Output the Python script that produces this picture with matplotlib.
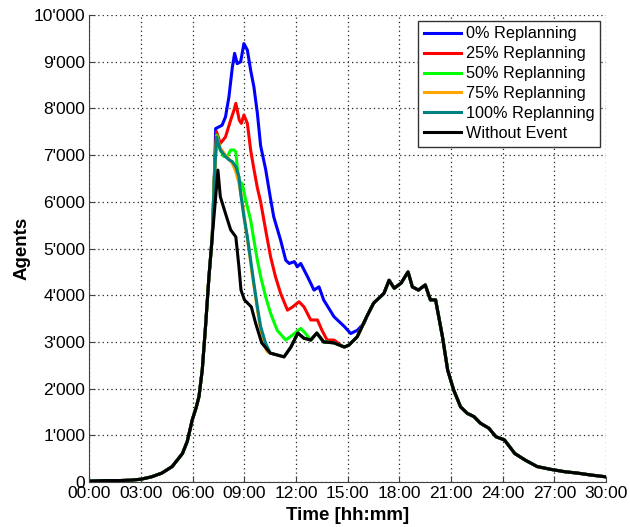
import matplotlib
matplotlib.use("Agg")
import matplotlib.pyplot as plt
import numpy as np
from matplotlib.ticker import FuncFormatter, MultipleLocator

plt.rcParams['font.family'] = ['Liberation Sans', 'DejaVu Sans']

# Without event (time in hours, agents)
base_t = [0, 0.9, 1.7, 2.45, 3.0, 3.6, 4.2, 4.8, 5.4, 5.68, 5.97, 6.2, 6.36, 6.55,
          6.74, 6.94, 7.13, 7.33, 7.46, 7.6, 7.9, 8.2, 8.5, 8.68, 8.8, 9.0, 9.4,
          9.65, 10.0, 10.5, 11.3, 11.7, 12.1, 12.45, 12.85, 13.2, 13.6, 14.2, 14.8,
          15.06, 15.55, 16.1, 16.5, 17.1, 17.4, 17.7, 18.1, 18.5, 18.75, 19.1, 19.5,
          19.8, 20.1, 20.5, 20.8, 21.15, 21.55, 21.94, 22.33, 22.7, 23.2, 23.6, 24.1,
          24.7, 25.3, 26.0, 26.8, 27.6, 28.35, 29.1, 30.0]
base_v = [20, 30, 30, 40, 60, 110, 190, 330, 610, 870, 1330, 1600, 1830, 2400,
          3330, 4400, 5250, 6110, 6680, 6110, 5750, 5400, 5250, 4610, 4110, 3900, 3750,
          3400, 2980, 2760, 2680, 2890, 3190, 3080, 3040, 3190, 3000, 2980, 2890,
          2930, 3110, 3540, 3830, 4040, 4320, 4150, 4260, 4500, 4180, 4110, 4220,
          3900, 3900, 3110, 2400, 1970, 1610, 1470, 1400, 1260, 1150, 970, 900,
          610, 470, 330, 270, 220, 190, 150, 110]

# replanning runs, only the part that differs from the base run
r0_t = [7.25, 7.33, 7.7, 7.9, 8.1, 8.3, 8.43, 8.58, 8.78, 8.97, 9.17, 9.36, 9.55,
        9.75, 9.94, 10.23, 10.5, 10.7, 11.1, 11.4, 11.6, 11.9, 12.07, 12.27, 12.66,
        13.04, 13.33, 13.6, 14.2, 14.8, 15.17, 15.56, 15.95]
r0_v = [6500, 7570, 7640, 7820, 8250, 8890, 9180, 8960, 9000, 9390, 9250, 8820, 8460,
        7900, 7200, 6700, 6100, 5680, 5180, 4750, 4680, 4720, 4610, 4680, 4400,
        4110, 4180, 3900, 3540, 3330, 3180, 3250, 3400]

r25_t = [7.25, 7.38, 7.6, 7.9, 8.2, 8.4, 8.5, 8.7, 8.82, 8.97, 9.17, 9.36, 9.55,
         9.75, 9.94, 10.23, 10.52, 10.8, 11.1, 11.5, 11.8, 12.17, 12.46, 12.85, 13.24,
         13.5, 13.8, 14.2, 14.6]
r25_v = [6500, 7500, 7250, 7390, 7750, 7970, 8110, 7750, 7680, 7860, 7680, 7110, 6700,
         6300, 6000, 5400, 4820, 4400, 4040, 3680, 3750, 3860, 3750, 3470, 3470,
         3250, 3040, 3040, 2930]

r50_t = [7.25, 7.4, 7.6, 7.8, 8.0, 8.2, 8.4, 8.5, 8.58, 8.7, 8.88, 9.07, 9.36,
         9.55, 9.75, 9.94, 10.23, 10.52, 10.9, 11.4, 11.8, 12.27, 12.55]
r50_v = [6500, 7430, 7110, 6970, 6970, 7110, 7110, 7070, 6750, 6450, 6380, 6040, 5610,
         5180, 4750, 4400, 3970, 3610, 3250, 3040, 3150, 3290, 3180]

r75_t = [7.25, 7.38, 7.6, 7.9, 8.1, 8.3, 8.5, 8.68, 8.88, 9.07, 9.27, 9.45, 9.65,
         9.85, 10.05, 10.3]
r75_v = [6500, 7400, 7150, 7000, 6920, 6820, 6650, 6400, 6000, 5450, 4950, 4450, 3950,
         3450, 3050, 2800]

r100_t = [7.25, 7.38, 7.6, 7.9, 8.1, 8.3, 8.5, 8.68, 8.78, 8.97, 9.17, 9.36, 9.55,
          9.75, 9.94, 10.23]
r100_v = [6500, 7390, 7110, 6970, 6900, 6860, 6750, 6540, 6180, 5680, 5250, 4750, 4250,
          3750, 3330, 2970]

labels = ['0% Replanning', '25% Replanning', '50% Replanning',
          '75% Replanning', '100% Replanning', 'Without Event']
colors = ['#0000ff', '#ff0000', '#00ff00', '#ffa500', '#008080', '#000000']


def full_run(t, v):
    # before and after the replanning window the run equals the base run
    bt = np.array(base_t)
    bv = np.array(base_v)
    pre = bt < t[0]
    post = bt > t[-1]
    return (np.concatenate([bt[pre], t, bt[post]]),
            np.concatenate([bv[pre], v, bv[post]]))


runs = [(r0_t, r0_v), (r25_t, r25_v), (r50_t, r50_v), (r75_t, r75_v), (r100_t, r100_v)]

fig = plt.figure(figsize=(6.3, 5.27), dpi=100)
ax = fig.add_axes([0.142, 0.0854, 0.820, 0.886])

for (t, v), lab, col in zip(runs, labels[:5], colors[:5]):
    x, y = full_run(np.array(t), np.array(v))
    ax.plot(x, y, color=col, lw=2.2, label=lab)
ax.plot(base_t, base_v, color=colors[5], lw=2.2, label=labels[5])

ax.set_xlim(0, 30)
ax.set_ylim(0, 10000)
ax.xaxis.set_major_locator(MultipleLocator(3))
ax.yaxis.set_major_locator(MultipleLocator(1000))
ax.xaxis.set_major_formatter(FuncFormatter(lambda h, p: f"{int(round(h)):02d}:00"))
ax.yaxis.set_major_formatter(FuncFormatter(
    lambda v, p: "0" if v == 0 else f"{int(v) // 1000}'{int(v) % 1000:03d}"))

ax.grid(True, color='#222222', linestyle=(0, (1, 2.5)), lw=0.9)
ax.spines['top'].set_visible(False)
ax.spines['right'].set_visible(False)
ax.spines['left'].set_color('#404040')
ax.spines['bottom'].set_color('#404040')
ax.tick_params(direction='in', length=4, labelsize=12.5, color='#404040', pad=3)

ax.set_xlabel('Time [hh:mm]', fontsize=13.5, fontweight='bold', labelpad=4)
ax.set_ylabel('Agents', fontsize=13.5, fontweight='bold', labelpad=2)

leg = ax.legend(loc='upper right', fontsize=11.7, frameon=True, fancybox=False,
                framealpha=1, edgecolor='#333333', borderaxespad=0.35,
                handlelength=2.3, handletextpad=0.3, labelspacing=0.3,
                borderpad=0.35)
leg.get_frame().set_linewidth(1.0)

fig.savefig('out.png', dpi=100)
